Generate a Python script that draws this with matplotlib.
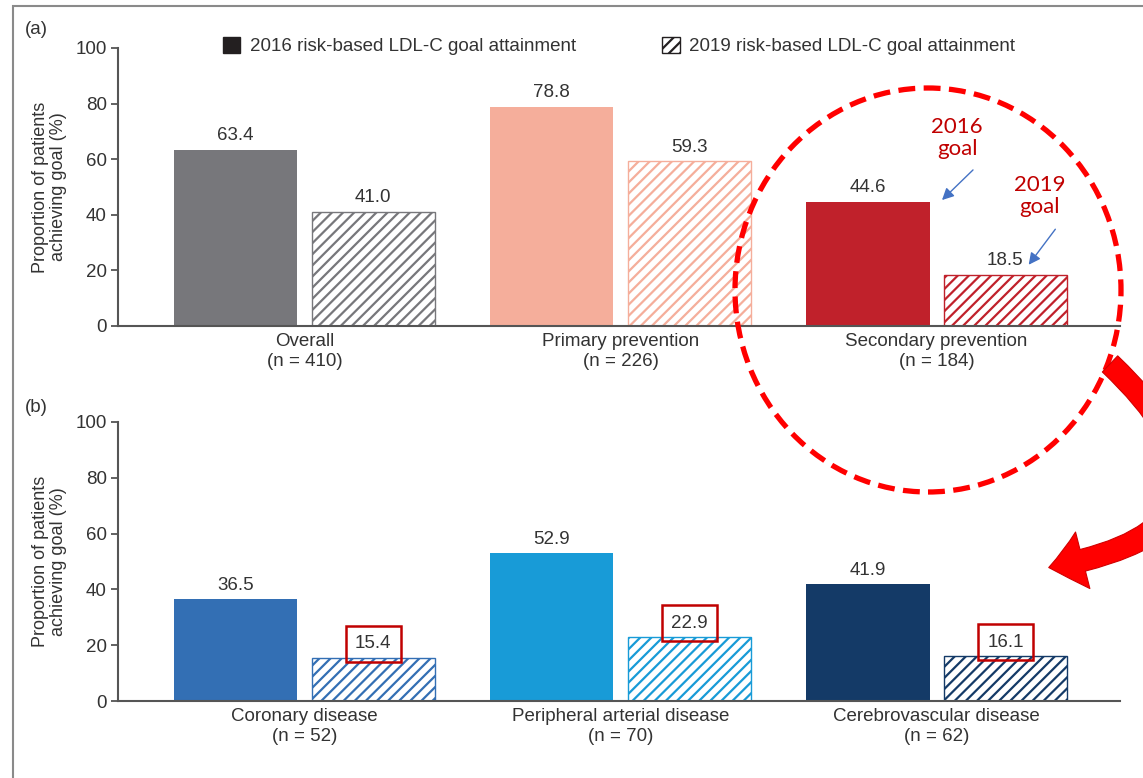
import numpy as np
import matplotlib
matplotlib.use("Agg")
import matplotlib.pyplot as plt
from matplotlib.patches import Patch, Ellipse, Rectangle, FancyArrowPatch

plt.rcParams['font.family'] = ['Liberation Sans', 'DejaVu Sans']
plt.rcParams['hatch.linewidth'] = 1.6

# Panel (a): by prevention type
groups_a = ["Overall\n(n = 410)", "Primary prevention\n(n = 226)", "Secondary prevention\n(n = 184)"]
goal2016_a = [63.4, 78.8, 44.6]
goal2019_a = [41.0, 59.3, 18.5]
colors_a = ["#77777b", "#f5ae9b", "#c0212b"]

# Panel (b): secondary prevention by disease
groups_b = ["Coronary disease\n(n = 52)", "Peripheral arterial disease\n(n = 70)", "Cerebrovascular disease\n(n = 62)"]
goal2016_b = [36.5, 52.9, 41.9]
goal2019_b = [15.4, 22.9, 16.1]
colors_b = ["#336fb4", "#189bd7", "#143a67"]

yticks = [0, 20, 40, 60, 80, 100]
legend_labels = ["2016 risk-based LDL-C goal attainment", "2019 risk-based LDL-C goal attainment"]

W, H = 1143, 778
fig = plt.figure(figsize=(W / 100, H / 100), dpi=100)

def fx(px):
    return px / W

def fy(py):
    return 1 - py / H

txt = "#333333"
spine = "#555555"
fs = 13.5
width = 0.39
off = 0.2175


def panel(rect, groups, v16, v19, colors, boxed=False):
    ax = fig.add_axes(rect)
    x = np.arange(len(groups))
    b1 = ax.bar(x - off, v16, width, color=colors, linewidth=0)
    b2 = ax.bar(x + off, v19, width, color="white", edgecolor=colors,
                hatch="///", linewidth=1.0)
    ax.bar_label(b1, labels=[f"{v:.1f}" for v in v16], padding=4,
                 fontsize=fs, color=txt)
    l2 = ax.bar_label(b2, labels=[f"{v:.1f}" for v in v19], padding=4,
                      fontsize=fs, color=txt)
    if boxed:
        for t in l2:
            t.set_bbox(dict(boxstyle="square,pad=0.5", facecolor="none",
                            edgecolor="#c00000", linewidth=1.8))
    ax.set_xlim(-0.59, 2.58)
    ax.set_ylim(0, 100)
    ax.set_yticks(yticks)
    ax.set_xticks(x, groups)
    ax.tick_params(axis="x", length=0, pad=5, labelsize=fs, labelcolor=txt)
    ax.tick_params(axis="y", length=5, width=1.3, color=spine, pad=3,
                   labelsize=fs, labelcolor=txt)
    for s in ["top", "right"]:
        ax.spines[s].set_visible(False)
    for s in ["left", "bottom"]:
        ax.spines[s].set_color(spine)
        ax.spines[s].set_linewidth(1.5)
    ax.set_ylabel("Proportion of patients\nachieving goal (%)", fontsize=13,
                  color=txt, labelpad=6, linespacing=1.1)
    return ax


ax_a = panel([fx(118), fy(326), fx(1120 - 118), (326 - 48) / H],
             groups_a, goal2016_a, goal2019_a, colors_a)
ax_b = panel([fx(118), fy(701), fx(1120 - 118), (701 - 422) / H],
             groups_b, goal2016_b, goal2019_b, colors_b, boxed=True)

fig.text(fx(25), fy(30), "(a)", fontsize=fs, color=txt, va="center")
fig.text(fx(25), fy(408), "(b)", fontsize=fs, color=txt, va="center")

handles = [Patch(facecolor="#231f20", edgecolor="#231f20"),
           Patch(facecolor="white", edgecolor="#231f20", hatch="///")]
fig.legend(handles, legend_labels, loc="center", bbox_to_anchor=(fx(619), fy(46)),
           ncol=2, frameon=False, fontsize=fs, labelcolor=txt,
           handlelength=0.95, handleheight=0.95, handletextpad=0.5,
           columnspacing=4.6)

# outer frame
fig.add_artist(Rectangle((fx(13), fy(1000)), 2, fy(6) - fy(1000),
                         transform=fig.transFigure, fill=False,
                         edgecolor="#8a8a8a", linewidth=1.5))

# dashed highlight around secondary prevention
fig.add_artist(Ellipse((fx(928), fy(290)), fx(386), 404 / H,
                       transform=fig.transFigure, fill=False,
                       edgecolor="#ff0000", linewidth=3.8,
                       linestyle=(0, (3.2, 1.6))))

fig.text(fx(957), fy(138), "2016\ngoal", fontsize=16, color="#c00000",
         family=["Lato", "DejaVu Sans"], ha="center", va="center", linespacing=1.15)
fig.text(fx(1040), fy(196), "2019\ngoal", fontsize=16, color="#c00000",
         family=["Lato", "DejaVu Sans"], ha="center", va="center", linespacing=1.15)

for (x0, y0), (x1, y1) in [((975, 168), (940, 202)), ((1057, 227), (1027, 267))]:
    fig.add_artist(FancyArrowPatch((fx(x0), fy(y0)), (fx(x1), fy(y1)),
                                   transform=fig.transFigure,
                                   arrowstyle="-|>,head_length=7,head_width=3.5",
                                   color="#4472c4", linewidth=1.0))

# curved arrow pointing to panel (b)
fig.add_artist(FancyArrowPatch((fx(1108), fy(362)), (fx(1046), fy(568)),
                               transform=fig.transFigure,
                               connectionstyle="arc3,rad=-1.0",
                               arrowstyle="simple,tail_width=16,head_width=42,head_length=25",
                               facecolor="#ff0000", edgecolor="#d00000",
                               linewidth=0.8))

fig.savefig("out.png", dpi=100)
